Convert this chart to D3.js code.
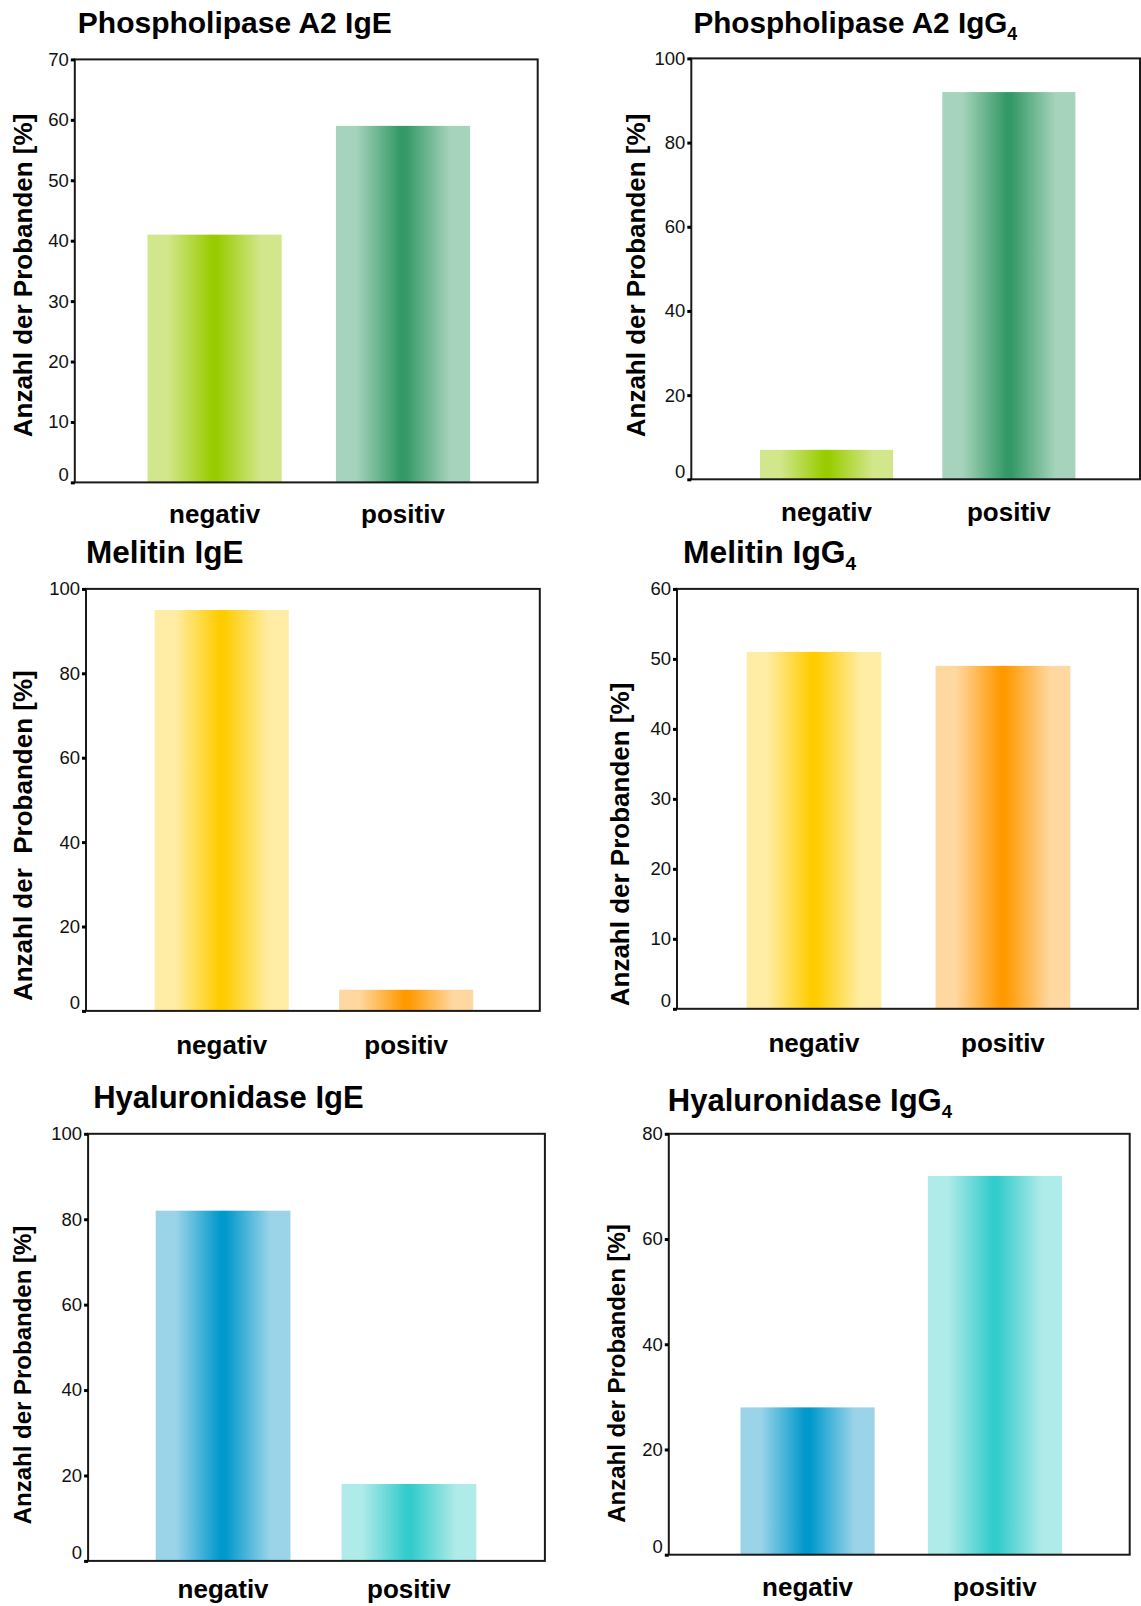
<!DOCTYPE html>
<html>
<head>
<meta charset="utf-8">
<script src="https://cdn.jsdelivr.net/npm/d3@7"></script>
<style>
  html, body { margin: 0; padding: 0; background: #fff; }
  svg { display: block; font-family: "Liberation Sans", Arial, Helvetica, sans-serif; }
</style>
</head>
<body>
<svg id="chart" width="1141" height="1606"></svg>
<script>
// Anteil der Probanden mit negativem / positivem Befund je Allergen und Antikörperklasse
const categories = ["negativ", "positiv"];

const titles = ["Phospholipase A2 IgE", "Phospholipase A2 IgG", "Melitin IgE", "Melitin IgG", "Hyaluronidase IgE", "Hyaluronidase IgG"];
const titleSubscripts = ["", "4", "", "4", "", "4"];

const yAxisTitles = [
  "Anzahl der Probanden [%]",
  "Anzahl der Probanden [%]",
  "Anzahl der  Probanden [%]",
  "Anzahl der Probanden [%]",
  "Anzahl der Probanden [%]",
  "Anzahl der Probanden [%]"
];

const valuesNegativ = [41, 7, 95, 51, 82, 28];
const valuesPositiv = [59, 92, 5, 49, 18, 72];

const yMax = [70, 100, 100, 60, 100, 80];
const yTicks = [
  [0, 10, 20, 30, 40, 50, 60, 70],
  [0, 20, 40, 60, 80, 100],
  [0, 20, 40, 60, 80, 100],
  [0, 10, 20, 30, 40, 50, 60],
  [0, 20, 40, 60, 80, 100],
  [0, 20, 40, 60, 80]
];

// [hell, kräftig] je Balken: negativ, positiv
const phospholipaseColors = [["#d2e78c", "#99cc00"], ["#a6d3bb", "#339966"]];
const melitinColors = [["#ffeda6", "#ffcc00"], ["#ffd7a1", "#ff9900"]];
const hyaluronidaseColors = [["#9bd4e9", "#0099cc"], ["#afebe9", "#33cccc"]];
const panelColors = [phospholipaseColors, phospholipaseColors, melitinColors, melitinColors, hyaluronidaseColors, hyaluronidaseColors];

// Lage der sechs Teildiagramme auf der Seite
const layout = [
  { l: 74.8, t: 59.4, r: 537.7, b: 482.4, barL: 147.5, barR: 470.1, pad: 0.288, tx: 77.8, ty: 32.5, ts: 30, yx: 31.7, yc: 275.5, ys: 26, lb: 523 },
  { l: 691.3, t: 58.4, r: 1140, b: 479.3, barL: 760, barR: 1075.4, pad: 0.27, tx: 693.4, ty: 32.5, ts: 29.7, yx: 645, yc: 275.5, ys: 26, lb: 521 },
  { l: 86, t: 588.9, r: 539.8, b: 1010.9, barL: 154.7, barR: 473.2, pad: 0.273, tx: 86, ty: 563.3, ts: 31.5, yx: 31.7, yc: 835.7, ys: 26, lb: 1054 },
  { l: 677, t: 588.9, r: 1137.9, b: 1008.8, barL: 746.6, barR: 1070.3, pad: 0.287, tx: 683.1, ty: 563.3, ts: 31.8, yx: 629, yc: 844.5, ys: 26, lb: 1052 },
  { l: 88.1, t: 1133.8, r: 544.9, b: 1560.9, barL: 155.7, barR: 476.3, pad: 0.275, tx: 93.2, ty: 1108.2, ts: 31, yx: 30.7, yc: 1375, ys: 24, lb: 1598 },
  { l: 668.8, t: 1133.8, r: 1129.7, b: 1554.7, barL: 740.5, barR: 1062, pad: 0.284, tx: 667.8, ty: 1111.3, ts: 31, yx: 625, yc: 1373.5, ys: 24, lb: 1596 }
];

const svg = d3.select("#chart");
const defs = svg.append("defs");

layout.forEach((L, i) => {
  const g = svg.append("g").attr("class", "panel");

  const x = d3.scaleBand()
    .domain(categories)
    .range([L.barL, L.barR])
    .paddingInner(L.pad)
    .paddingOuter(0);

  const y = d3.scaleLinear()
    .domain([0, yMax[i]])
    .range([L.b, L.t]);

  // Horizontaler Verlauf: helle Ränder, kräftige Mitte
  categories.forEach((c, j) => {
    const [light, dark] = panelColors[i][j];
    const grad = defs.append("linearGradient")
      .attr("id", `grad-${i}-${j}`)
      .attr("x1", "0%").attr("x2", "100%")
      .attr("y1", "0%").attr("y2", "0%");
    [[0, light], [0.15, light], [0.48, dark], [0.52, dark], [0.85, light], [1, light]]
      .forEach(([o, col]) => grad.append("stop").attr("offset", o).attr("stop-color", col));
  });

  const rows = categories.map((c, j) => ({ c, j, v: j === 0 ? valuesNegativ[i] : valuesPositiv[i] }));

  g.selectAll("rect.bar")
    .data(rows)
    .join("rect")
    .attr("class", "bar")
    .attr("x", d => x(d.c))
    .attr("width", x.bandwidth())
    .attr("y", d => y(d.v))
    .attr("height", d => y(0) - y(d.v))
    .attr("fill", d => `url(#grad-${i}-${d.j})`);

  // Rahmen
  g.append("rect")
    .attr("x", L.l).attr("y", L.t)
    .attr("width", L.r - L.l).attr("height", L.b - L.t)
    .attr("fill", "none")
    .attr("stroke", "#1a1a1a")
    .attr("stroke-width", 2);

  // y-Achse
  const ax = g.append("g")
    .attr("transform", `translate(${L.l},0)`)
    .call(d3.axisLeft(y).tickValues(yTicks[i]).tickSize(4).tickPadding(2).tickFormat(d3.format("d")))
    .attr("font-size", 18.5)
    .attr("font-family", null);
  ax.select(".domain").remove();
  ax.selectAll(".tick line").attr("stroke", "#000").attr("stroke-width", 3);
  ax.selectAll(".tick text")
    .attr("fill", "#111")
    .attr("y", d => d === 0 ? -8 : 0);

  // Achsentitel
  g.append("text")
    .attr("transform", `translate(${L.yx},${L.yc}) rotate(-90)`)
    .attr("text-anchor", "middle")
    .attr("font-weight", "bold")
    .attr("font-size", L.ys)
    .attr("fill", "#000")
    .style("white-space", "pre")
    .text(yAxisTitles[i]);

  // Kategorien
  g.selectAll("text.cat")
    .data(categories)
    .join("text")
    .attr("class", "cat")
    .attr("x", d => x(d) + x.bandwidth() / 2)
    .attr("y", L.lb)
    .attr("text-anchor", "middle")
    .attr("font-weight", "bold")
    .attr("font-size", 26)
    .attr("fill", "#000")
    .text(d => d);

  // Überschrift
  const t = g.append("text")
    .attr("x", L.tx)
    .attr("y", L.ty)
    .attr("font-weight", "bold")
    .attr("font-size", L.ts)
    .attr("fill", "#000");
  t.append("tspan").text(titles[i]);
  if (titleSubscripts[i]) {
    t.append("tspan")
      .attr("font-size", L.ts * 0.6)
      .attr("dy", 7)
      .text(titleSubscripts[i]);
  }
});
</script>
</body>
</html>
